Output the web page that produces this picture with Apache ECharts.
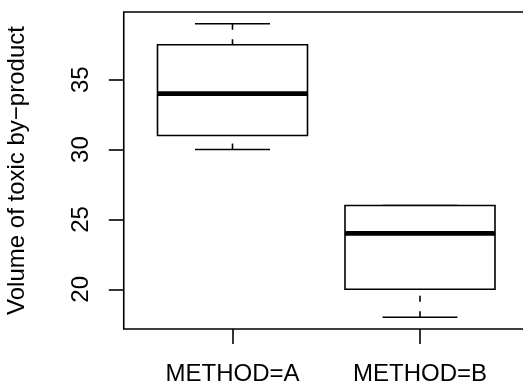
<!DOCTYPE html>
<html>
<head>
<meta charset="utf-8">
<script src="https://cdn.jsdelivr.net/npm/echarts@6/dist/echarts.min.js"></script>
<style>
  html, body { margin: 0; padding: 0; background: #fff; }
  #chart { width: 523px; height: 383px; }
</style>
</head>
<body>
<div id="chart"></div>
<script>
// box statistics
const methods = ['METHOD=A', 'METHOD=B'];
const whiskerLow = [30, 18];
const q1 = [31, 20];
const medians = [34, 24];
const q3 = [37.5, 26];
const whiskerHigh = [39, 26];

const xTicks = [1, 2];
const yTicks = [20, 25, 30, 35];

const font = 'Liberation Sans, Arial, Helvetica, sans-serif';
const lw = 1.6;

var chart = echarts.init(document.getElementById('chart'));

let boxData = methods.map((m, i) => [i + 1, whiskerLow[i], q1[i], medians[i], q3[i], whiskerHigh[i]]);

function renderBox(params, api) {
    let x = api.value(0);
    let halfBox = api.size([0.4, 0])[0];
    let halfCap = api.size([0.2, 0])[0];
    let pLow = api.coord([x, api.value(1)]);
    let pQ1 = api.coord([x, api.value(2)]);
    let pMed = api.coord([x, api.value(3)]);
    let pQ3 = api.coord([x, api.value(4)]);
    let pHigh = api.coord([x, api.value(5)]);
    let cx = pMed[0];
    let solid = { stroke: '#000', lineWidth: lw, fill: null };
    let dashed = { stroke: '#000', lineWidth: lw, lineDash: [6, 9.5] };
    return {
        type: 'group',
        children: [
            // whiskers drawn from the end toward the box, like R
            { type: 'line', shape: { x1: cx, y1: pHigh[1], x2: cx, y2: pQ3[1] }, style: dashed },
            { type: 'line', shape: { x1: cx, y1: pLow[1], x2: cx, y2: pQ1[1] }, style: dashed },
            { type: 'line', shape: { x1: cx - halfCap, y1: pHigh[1], x2: cx + halfCap, y2: pHigh[1] }, style: solid },
            { type: 'line', shape: { x1: cx - halfCap, y1: pLow[1], x2: cx + halfCap, y2: pLow[1] }, style: solid },
            {
                type: 'rect',
                shape: { x: cx - halfBox, y: pQ3[1], width: halfBox * 2, height: pQ1[1] - pQ3[1] },
                style: { stroke: '#000', lineWidth: lw, fill: '#fff' }
            },
            { type: 'line', shape: { x1: cx - halfBox, y1: pMed[1], x2: cx + halfBox, y2: pMed[1] }, style: { stroke: '#000', lineWidth: lw * 3 } }
        ]
    };
}

let option = {
    animation: false,
    backgroundColor: '#fff',
    textStyle: { fontFamily: font },
    grid: {
        left: 123.75,
        top: 12,
        right: -5.75,
        bottom: 54,
        containLabel: false,
        outerBoundsMode: 'none',
        show: true,
        borderColor: '#000',
        borderWidth: lw,
        backgroundColor: 'transparent'
    },
    xAxis: {
        type: 'value',
        min: 0.42,
        max: 2.58,
        axisLine: { show: false },
        splitLine: { show: false },
        axisTick: {
            show: true,
            customValues: xTicks,
            length: 15,
            lineStyle: { color: '#000', width: lw }
        },
        axisLabel: {
            customValues: xTicks,
            formatter: (v) => methods[Math.round(v) - 1] || '',
            fontSize: 24,
            color: '#000',
            fontFamily: font,
            margin: 33
        }
    },
    yAxis: {
        type: 'value',
        min: 17.16,
        max: 39.84,
        name: 'Volume of toxic by\u2212product',
        nameLocation: 'middle',
        nameGap: 94,
        nameRotate: 90,
        nameTextStyle: { fontSize: 24, color: '#000', fontFamily: font },
        axisLine: { show: false },
        splitLine: { show: false },
        axisTick: {
            show: true,
            customValues: yTicks,
            length: 15,
            lineStyle: { color: '#000', width: lw }
        },
        axisLabel: {
            customValues: yTicks,
            rotate: 90,
            fontSize: 24,
            color: '#000',
            fontFamily: font,
            margin: 30
        }
    },
    series: [
        {
            type: 'custom',
            renderItem: renderBox,
            data: boxData,
            encode: { x: 0, y: [1, 2, 3, 4, 5] },
            clip: false
        }
    ]
};
chart.setOption(option);
</script>
</body>
</html>
